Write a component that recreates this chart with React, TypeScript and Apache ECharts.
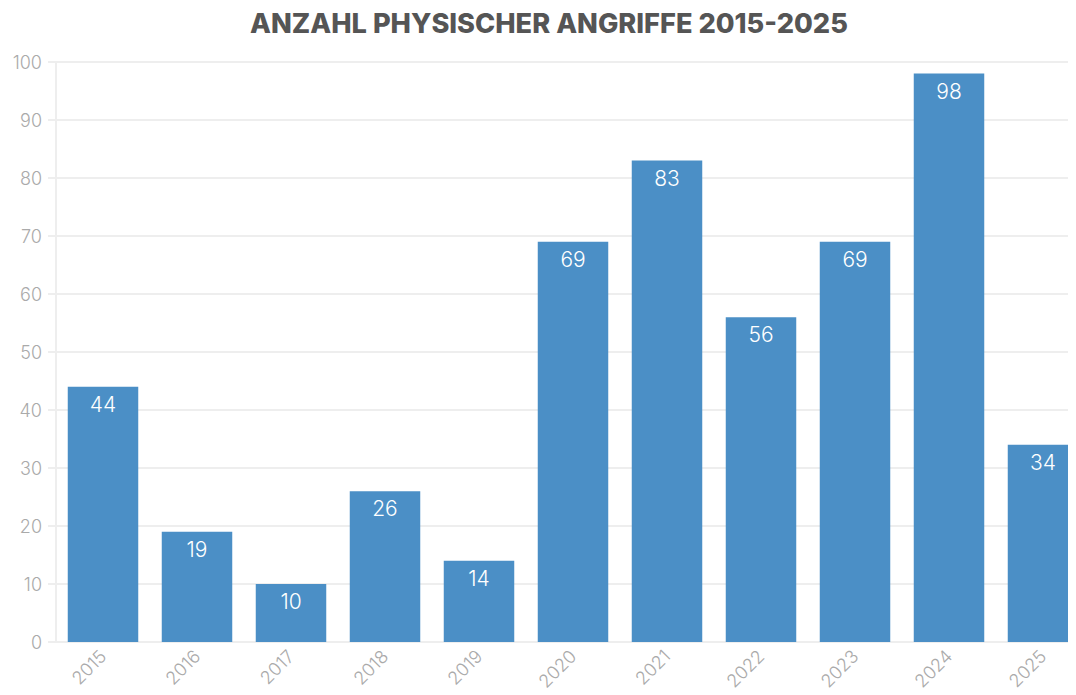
import React, { useEffect, useRef } from "react";
import * as echarts from "echarts";

const years = ["2015", "2016", "2017", "2018", "2019", "2020", "2021", "2022", "2023", "2024", "2025"];
const attacks = [44, 19, 10, 26, 14, 69, 83, 56, 69, 98, 34];
const titleText = "ANZAHL PHYSISCHER ANGRIFFE 2015-2025";

export default function App() {
  const ref = useRef<HTMLDivElement>(null);
  useEffect(() => {
    if (!ref.current) return;
    const chart = echarts.init(ref.current, undefined, { renderer: "svg" });
    chart.setOption({
      animation: false,
      textStyle: { fontFamily: "Inter" },
      title: {
        text: titleText,
        left: "center",
        top: -3,
        textStyle: { fontFamily: "Inter", fontWeight: 800, fontSize: 27.2, color: "#555555" },
      },
      grid: { left: 48, right: 0, top: 54, bottom: 53, containLabel: false },
      xAxis: {
        type: "category",
        data: years,
        axisLine: { lineStyle: { color: "#eeeeee", width: 2 } },
        axisTick: { alignWithLabel: true, length: 8, lineStyle: { color: "#eeeeee", width: 2 } },
        axisLabel: { rotate: 45, color: "#aaaaaa", fontSize: 18, fontFamily: "Inter", fontWeight: 300, margin: 11 },
      },
      yAxis: {
        type: "value",
        min: 0,
        max: 100,
        interval: 10,
        axisLine: { show: true, lineStyle: { color: "#eeeeee", width: 2 } },
        axisTick: { show: true, length: 8, lineStyle: { color: "#eeeeee", width: 2 } },
        splitLine: { lineStyle: { color: "#eeeeee", width: 2 } },
        axisLabel: { color: "#aaaaaa", fontSize: 18, fontFamily: "Inter", fontWeight: 300, margin: 14 },
      },
      series: [
        {
          type: "bar",
          data: attacks,
          barCategoryGap: "25%",
          itemStyle: { color: "#4b8fc6" },
          label: {
            show: true,
            position: "insideTop",
            distance: 7,
            color: "#ffffff",
            fontSize: 21,
            fontFamily: "Inter",
            fontWeight: 300,
          },
        },
      ],
    });
    return () => chart.dispose();
  }, []);
  return <div ref={ref} style={{ width: 1082, height: 687 }} />;
}
